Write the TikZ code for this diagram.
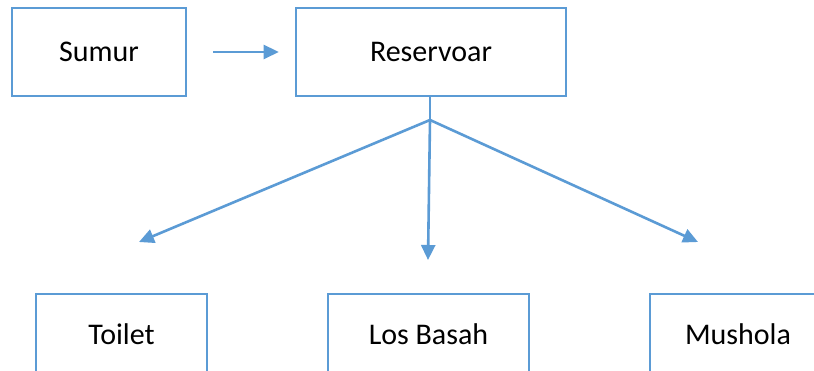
\documentclass[tikz,border=0pt]{standalone}
\usepackage{fontspec}
\setmainfont{Carlito}
\usetikzlibrary{arrows.meta}
\definecolor{ofblue}{HTML}{5B9BD5}
\tikzset{
  box/.style={draw=ofblue, line width=2.6pt, fill=white, inner sep=0pt, font=\fontsize{30}{36}\selectfont},
  conn/.style={draw=ofblue, line width=2.6pt},
  arr/.style={conn, -{Triangle[length=15pt,width=14pt]}}
}
\begin{document}
\begin{tikzpicture}[x=1pt,y=-1pt]
\useasboundingbox (0,0) rectangle (814,371);
\clip (0,0) rectangle (814,371);
\fill[white] (0,0) rectangle (814,371);
\node[box, minimum width=174pt, minimum height=88pt] (sumur) at (99,52) {Sumur};
\node[box, minimum width=270pt, minimum height=88pt] (res) at (431,52) {Reservoar};
\node[box, minimum width=171pt, minimum height=80pt] (toilet) at (121.5,334) {Toilet};
\node[box, minimum width=201pt, minimum height=80pt] (los) at (428.5,334) {Los Basah};
\node[box, minimum width=176pt, minimum height=80pt] (mush) at (738,334) {Mushola};
\draw[arr, shorten <=26pt, shorten >=16pt] (sumur.east) -- (res.west);
\coordinate (br) at (430,120);
\coordinate (tl) at (139,242);
\coordinate (tm) at (428,260);
\coordinate (tr) at (698,242);
\draw[conn] (res.south -| br) -- (br);
\draw[arr] (br) -- (tl);
\draw[arr] (br) -- (tm);
\draw[arr] (br) -- (tr);
\end{tikzpicture}
\end{document}
